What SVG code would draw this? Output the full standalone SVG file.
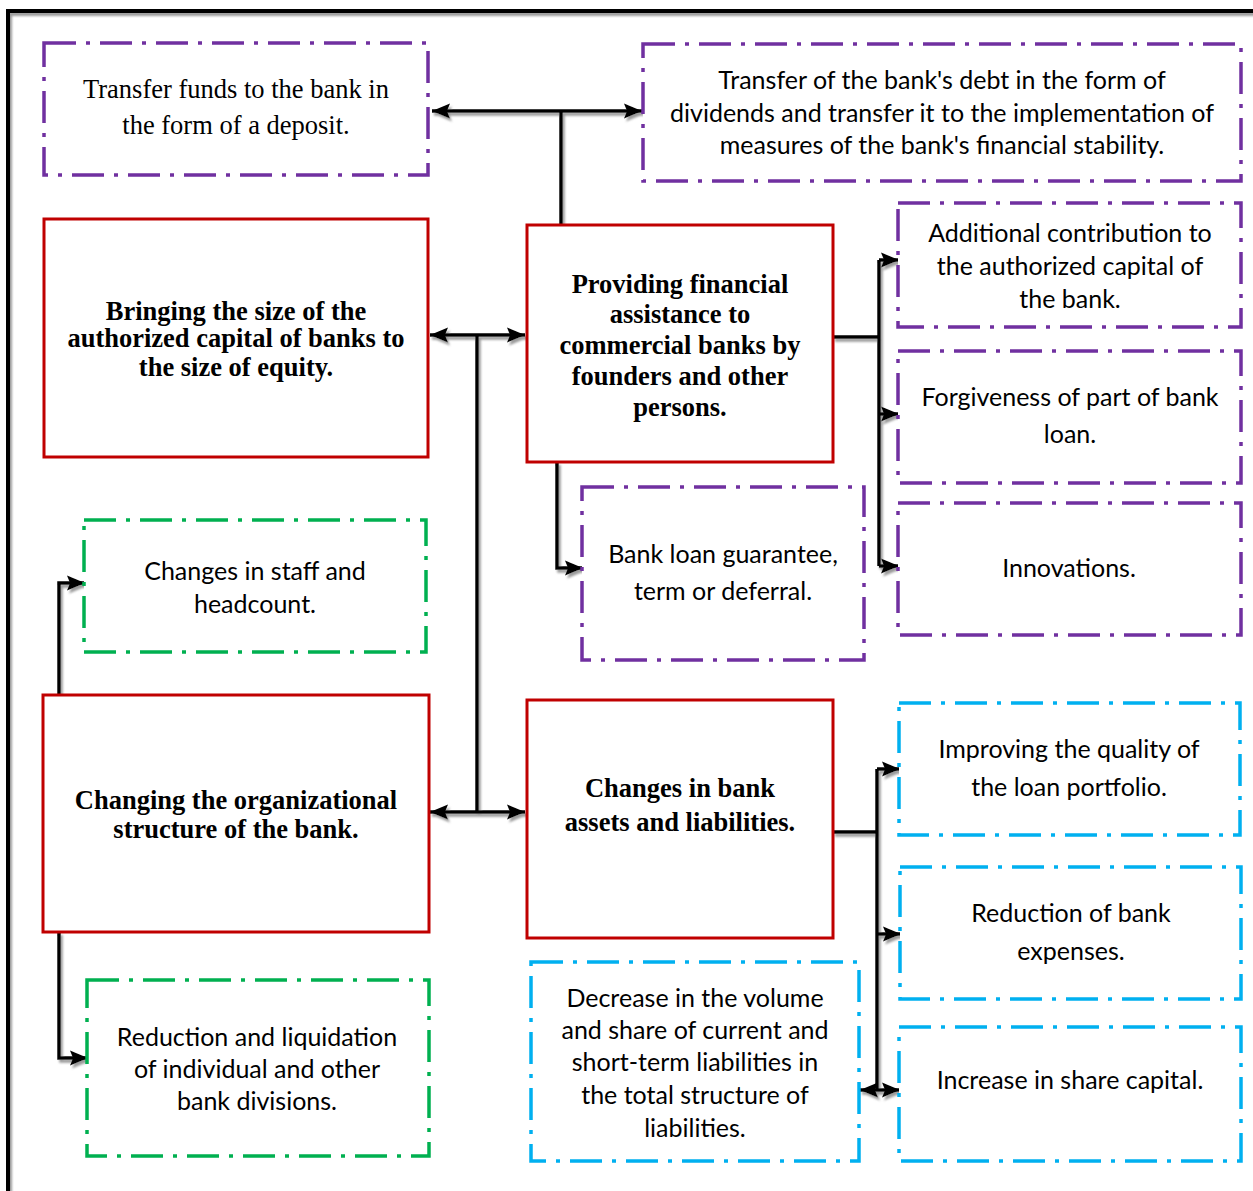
<svg xmlns="http://www.w3.org/2000/svg" width="1253" height="1191" viewBox="0 0 1253 1191">
<defs>
<marker id="ah" markerUnits="userSpaceOnUse" markerWidth="20" markerHeight="18" refX="18" refY="9" orient="auto-start-reverse" viewBox="0 0 20 18">
<path d="M0,1.5 L18,9 L0,16.5 L3,9 Z" fill="#000"/>
</marker>
<filter id="sh" x="-10%" y="-10%" width="130%" height="130%">
<feDropShadow dx="2" dy="3" stdDeviation="1" flood-color="#888" flood-opacity="0.85"/>
</filter>
<style>
.red{fill:#fff;stroke:#C00000;stroke-width:3}
.pur{fill:#fff;stroke:#7030A0;stroke-width:3.5;stroke-dasharray:32 10 4 10}
.grn{fill:#fff;stroke:#00B050;stroke-width:3.5;stroke-dasharray:32 10 4 10}
.blu{fill:#fff;stroke:#00B0F0;stroke-width:3.5;stroke-dasharray:32 10 4 10}
.tr{font-family:"Liberation Serif",serif;font-size:26.5px;fill:#000;text-anchor:middle}
.tb{font-family:"Liberation Serif",serif;font-size:26.5px;font-weight:bold;fill:#000;text-anchor:middle}
.ts{font-family:Lato,"Liberation Sans",sans-serif;font-size:25px;fill:#000;text-anchor:middle}
.c{fill:none;stroke:#000;stroke-width:3.5}
.ca{fill:none;stroke:#000;stroke-width:3.5;marker-end:url(#ah)}
.cd{fill:none;stroke:#000;stroke-width:3.5;marker-end:url(#ah);marker-start:url(#ah)}
</style>
</defs>
<rect width="1253" height="1191" fill="#fff"/>
<path d="M8,1191 V11 H1253" fill="none" stroke="#000" stroke-width="4" filter="url(#sh)"/>

<g id="connectors" filter="url(#sh)">
<path class="cd" d="M432,111 H642"/>
<path class="c" d="M561,111 V225"/>
<path class="cd" d="M430,335 H525"/>
<path class="c" d="M477,335 V812"/>
<path class="cd" d="M430,812 H525"/>
<path class="c" d="M833,337 H879"/>
<path class="c" d="M879,260 V566"/>
<path class="ca" d="M879,260 H899"/>
<path class="ca" d="M879,414 H899"/>
<path class="ca" d="M879,566 H899"/>
<path class="ca" d="M557,462 V568 H583"/>
<path class="ca" d="M59,695 V583 H85"/>
<path class="ca" d="M59,932 V1058 H88"/>
<path class="c" d="M833,832 H877"/>
<path class="c" d="M877,769 V1090"/>
<path class="ca" d="M877,769 H900"/>
<path class="ca" d="M877,934 H901"/>
<path class="cd" d="M860,1090 H900"/>
</g>

<g id="n1"><rect class="pur" x="44" y="43" width="384" height="132"/>
<text class="tr" x="236" y="98">Transfer funds to the bank in</text>
<text class="tr" x="236" y="134">the form of a deposit.</text></g>

<g id="n2"><rect class="pur" x="643" y="44" width="598" height="137"/>
<text class="ts" x="942" y="89">Transfer of the bank's debt in the form of</text>
<text class="ts" x="942" y="122">dividends and transfer it to the implementation of</text>
<text class="ts" x="942" y="154">measures of the bank's financial stability.</text></g>

<g id="n3"><rect class="red" x="44" y="219" width="384" height="238"/>
<text class="tb" x="236" y="320">Bringing the size of the</text>
<text class="tb" x="236" y="347">authorized capital of banks to</text>
<text class="tb" x="236" y="376">the size of equity.</text></g>

<g id="n4"><rect class="red" x="527" y="225" width="306" height="237"/>
<text class="tb" x="680" y="293">Providing financial</text>
<text class="tb" x="680" y="323">assistance to</text>
<text class="tb" x="680" y="354">commercial banks by</text>
<text class="tb" x="680" y="385">founders and other</text>
<text class="tb" x="680" y="416">persons.</text></g>

<g id="n5"><rect class="pur" x="898" y="203" width="343" height="124"/>
<text class="ts" x="1070" y="242">Additional contribution to</text>
<text class="ts" x="1070" y="275">the authorized capital of</text>
<text class="ts" x="1070" y="308">the bank.</text></g>

<g id="n6"><rect class="pur" x="898" y="351" width="343" height="132"/>
<text class="ts" x="1070" y="406">Forgiveness of part of bank</text>
<text class="ts" x="1070" y="443">loan.</text></g>

<g id="n7"><rect class="pur" x="898" y="503" width="343" height="132"/>
<text class="ts" x="1069" y="577">Innovations.</text></g>

<g id="n8"><rect class="pur" x="582" y="487" width="282" height="173"/>
<text class="ts" x="723" y="563">Bank loan guarantee,</text>
<text class="ts" x="723" y="600">term or deferral.</text></g>

<g id="n9"><rect class="grn" x="84" y="520" width="342" height="132"/>
<text class="ts" x="255" y="580">Changes in staff and</text>
<text class="ts" x="255" y="613">headcount.</text></g>

<g id="n10"><rect class="red" x="43" y="695" width="386" height="237"/>
<text class="tb" x="236" y="809">Changing the organizational</text>
<text class="tb" x="236" y="838">structure of the bank.</text></g>

<g id="n11"><rect class="red" x="527" y="700" width="306" height="238"/>
<text class="tb" x="680" y="797">Changes in bank</text>
<text class="tb" x="680" y="831">assets and liabilities.</text></g>

<g id="n12"><rect class="grn" x="87" y="980" width="342" height="176"/>
<text class="ts" x="257" y="1046">Reduction and liquidation</text>
<text class="ts" x="257" y="1078">of individual and other</text>
<text class="ts" x="257" y="1110">bank divisions.</text></g>

<g id="n13"><rect class="blu" x="531" y="962" width="328" height="199"/>
<text class="ts" x="695" y="1007">Decrease in the volume</text>
<text class="ts" x="695" y="1039">and share of current and</text>
<text class="ts" x="695" y="1071">short-term liabilities in</text>
<text class="ts" x="695" y="1104">the total structure of</text>
<text class="ts" x="695" y="1137">liabilities.</text></g>

<g id="n14"><rect class="blu" x="899" y="703" width="341" height="132"/>
<text class="ts" x="1069" y="758">Improving the quality of</text>
<text class="ts" x="1069" y="796">the loan portfolio.</text></g>

<g id="n15"><rect class="blu" x="900" y="867" width="341" height="132"/>
<text class="ts" x="1071" y="922">Reduction of bank</text>
<text class="ts" x="1071" y="960">expenses.</text></g>

<g id="n16"><rect class="blu" x="899" y="1027" width="342" height="134"/>
<text class="ts" x="1070" y="1089">Increase in share capital.</text></g>
</svg>
